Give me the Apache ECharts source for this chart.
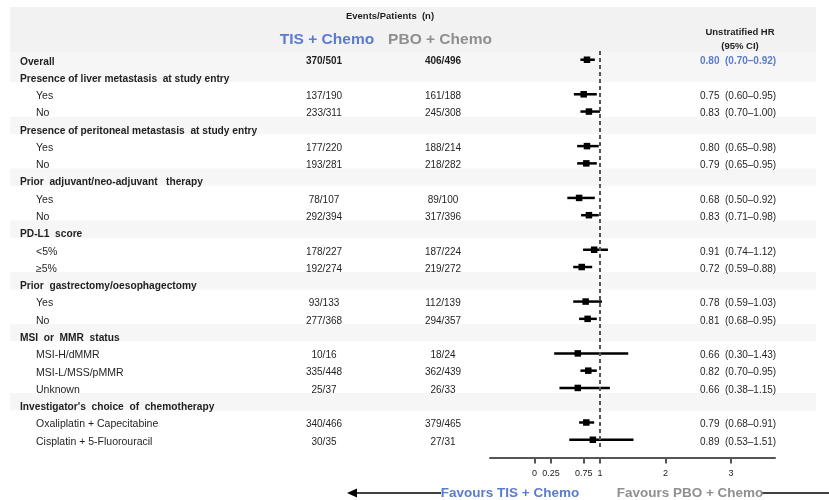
<!DOCTYPE html>
<html><head><meta charset="utf-8">
<script src="https://cdn.jsdelivr.net/npm/echarts@6/dist/echarts.min.js"></script>
<style>html,body{margin:0;padding:0;background:#fff}#c{width:829px;height:500px}</style>
</head><body><div id="c"></div>
<script>
const labels = ['Overall','Presence of liver metastasis  at study entry','Yes','No',
  'Presence of peritoneal metastasis  at study entry','Yes','No',
  'Prior  adjuvant/neo-adjuvant   therapy','Yes','No',
  'PD-L1  score','<5%','\u22655%',
  'Prior  gastrectomy/oesophagectomy','Yes','No',
  'MSI  or  MMR  status','MSI-H/dMMR','MSI-L/MSS/pMMR','Unknown',
  "Investigator's  choice  of  chemotherapy",'Oxaliplatin + Capecitabine','Cisplatin + 5-Fluorouracil'];
const rowTypes = ['overall','group','sub','sub','group','sub','sub','group','sub','sub','group','sub','sub',
  'group','sub','sub','group','sub','sub','sub','group','sub','sub'];
const tisCounts = ['370/501','','137/190','233/311','','177/220','193/281','','78/107','292/394','',
  '178/227','192/274','','93/133','277/368','','10/16','335/448','25/37','','340/466','30/35'];
const pboCounts = ['406/496','','161/188','245/308','','188/214','218/282','','89/100','317/396','',
  '187/224','219/272','','112/139','294/357','','18/24','362/439','26/33','','379/465','27/31'];
const hrVals = [0.80,null,0.75,0.83,null,0.80,0.79,null,0.68,0.83,null,0.91,0.72,null,0.78,0.81,null,0.66,0.82,0.66,null,0.79,0.89];
const ciLow  = [0.70,null,0.60,0.70,null,0.65,0.65,null,0.50,0.71,null,0.74,0.59,null,0.59,0.68,null,0.30,0.70,0.38,null,0.68,0.53];
const ciHigh = [0.92,null,0.95,1.00,null,0.98,0.95,null,0.92,0.98,null,1.12,0.88,null,1.03,0.95,null,1.43,0.95,1.15,null,0.91,1.51];
const tickValues = [0, 0.25, 0.75, 1, 2, 3];

const FONT = '"Liberation Sans", Arial, Helvetica, sans-serif';
const BLUE = '#5a7bd0', GREY = '#8f8f8f', TXT = '#1f1f1f';

const chart = echarts.init(document.getElementById('c'), null, {renderer: 'canvas'});

const ciData = [];
hrVals.forEach((v, i) => { if (v != null) ciData.push([ciLow[i], ciHigh[i], v, i]); });
const rowData = labels.map((_, i) => [0, i]);

function fmtHR(i) {
  return hrVals[i].toFixed(2) + '  (' + ciLow[i].toFixed(2) + '\u2013' + ciHigh[i].toFixed(2) + ')';
}

function txt(x, y, text, opts) {
  return {type: 'text', silent: true, style: Object.assign({
    x: x, y: y, text: text, fill: TXT, fontFamily: FONT, fontSize: 10,
    align: 'left', verticalAlign: 'middle'
  }, opts || {})};
}

const option = {
  animation: false,
  backgroundColor: '#fff',
  grid: {left: 490, right: 54, top: 51.1, bottom: 51.6, containLabel: false},
  xAxis: {
    type: 'value', min: -0.68, max: 3.67, offset: 9, position: 'bottom',
    splitLine: {show: false},
    axisLine: {show: true, onZero: false, lineStyle: {color: '#555', width: 2}},
    axisTick: {show: true, customValues: tickValues, length: 6, lineStyle: {color: '#555', width: 2}},
    axisLabel: {customValues: tickValues, formatter: v => String(v), fontSize: 9, color: '#222', fontFamily: FONT, margin: 12}
  },
  yAxis: {type: 'value', min: -0.5, max: labels.length - 0.5, inverse: true,
    axisLine: {show: false, onZero: false}, axisTick: {show: false}, axisLabel: {show: false}, splitLine: {show: false}},
  graphic: [
    {type: 'rect', z: 0, silent: true, shape: {x: 10, y: 7, width: 806, height: 45}, style: {fill: '#f2f2f2'}},
    {type: 'text', silent: true, style: {x: 390, y: 16, text: 'Events/Patients  (n)', font: 'bold 9.5px ' + FONT, fill: TXT, align: 'center', verticalAlign: 'middle', textAlign: 'center', textVerticalAlign: 'middle'}},
    {type: 'text', silent: true, style: {x: 327, y: 40, text: 'TIS + Chemo', font: 'bold 15.5px ' + FONT, fill: BLUE, align: 'center', verticalAlign: 'middle', textAlign: 'center', textVerticalAlign: 'middle'}},
    {type: 'text', silent: true, style: {x: 440, y: 40, text: 'PBO + Chemo', font: 'bold 15.5px ' + FONT, fill: GREY, align: 'center', verticalAlign: 'middle', textAlign: 'center', textVerticalAlign: 'middle'}},
    {type: 'text', silent: true, style: {x: 740, y: 32, text: 'Unstratified HR', font: 'bold 9.5px ' + FONT, fill: TXT, align: 'center', verticalAlign: 'middle', textAlign: 'center', textVerticalAlign: 'middle'}},
    {type: 'text', silent: true, style: {x: 740, y: 46, text: '(95% CI)', font: 'bold 9.5px ' + FONT, fill: TXT, align: 'center', verticalAlign: 'middle', textAlign: 'center', textVerticalAlign: 'middle'}},
    {type: 'line', silent: true, shape: {x1: 441, y1: 493, x2: 353, y2: 493}, style: {stroke: '#000', lineWidth: 1.5}},
    {type: 'polygon', silent: true, shape: {points: [[347, 493], [357, 488.5], [357, 497.5]]}, style: {fill: '#000'}},
    {type: 'line', silent: true, shape: {x1: 762, y1: 493, x2: 829, y2: 493}, style: {stroke: '#000', lineWidth: 1.5}},
    {type: 'text', silent: true, z: 10, style: {x: 510, y: 493, text: 'Favours TIS + Chemo', font: 'bold 13.5px ' + FONT, fill: BLUE, align: 'center', verticalAlign: 'middle', textAlign: 'center', textVerticalAlign: 'middle'}},
    {type: 'text', silent: true, z: 10, style: {x: 690, y: 493, text: 'Favours PBO + Chemo', font: 'bold 13.5px ' + FONT, fill: GREY, align: 'center', verticalAlign: 'middle', textAlign: 'center', textVerticalAlign: 'middle'}}
  ],
  series: [
    {
      type: 'custom', name: 'bands', z: 1, silent: true, clip: false,
      data: rowData, encode: {x: 0, y: 1},
      renderItem: function (params, api) {
        const i = api.value(1);
        const t = rowTypes[i];
        if (t === 'sub') return {type: 'group', children: []};
        const c = api.coord([0, i])[1];
        const h = api.size([0, 1])[1];
        let y0 = c - 0.7 * h, y1 = c - 0.7 * h + h;
        if (t === 'overall') y0 = 52;
        return {type: 'rect', shape: {x: 10, y: y0, width: 806, height: y1 - y0}, style: {fill: '#f6f6f6'}};
      }
    },
    {
      type: 'custom', name: 'text', z: 3, silent: true, clip: false,
      data: rowData, encode: {x: 0, y: 1},
      renderItem: function (params, api) {
        const i = api.value(1);
        const t = rowTypes[i];
        const y = api.coord([0, i])[1] + 2;
        const bold = t !== 'sub';
        const ch = [];
        ch.push(txt(t === 'sub' ? 36 : 20, y, labels[i], {fontWeight: bold ? 'bold' : 'normal', fontSize: bold ? 10.2 : 10.5}));
        if (tisCounts[i]) ch.push(txt(324, y, tisCounts[i], {align: 'center', fontWeight: t === 'overall' ? 'bold' : 'normal'}));
        if (pboCounts[i]) ch.push(txt(443, y, pboCounts[i], {align: 'center', fontWeight: t === 'overall' ? 'bold' : 'normal'}));
        if (hrVals[i] != null) ch.push(txt(700, y, fmtHR(i), {fill: t === 'overall' ? BLUE : TXT, fontWeight: t === 'overall' ? 'bold' : 'normal'}));
        return {type: 'group', children: ch};
      }
    },
    {
      type: 'custom', name: 'HR', z: 4, clip: false,
      data: ciData, encode: {x: [0, 1, 2], y: 3},
      renderItem: function (params, api) {
        const i = api.value(3);
        const p1 = api.coord([api.value(0), i]);
        const p2 = api.coord([api.value(1), i]);
        const pm = api.coord([api.value(2), i]);
        const s = 6.5;
        return {type: 'group', children: [
          {type: 'line', shape: {x1: p1[0], y1: p1[1], x2: p2[0], y2: p2[1]}, style: {stroke: '#000', lineWidth: 2.5}},
          {type: 'rect', shape: {x: pm[0] - s / 2, y: pm[1] - s / 2, width: s, height: s}, style: {fill: '#000'}}
        ]};
      },
      markLine: {
        silent: true, symbol: 'none', label: {show: false},
        lineStyle: {type: [4, 3], color: '#555', width: 2},
        data: [{xAxis: 1}]
      }
    }
  ]
};
chart.setOption(option);
</script>
</body></html>
